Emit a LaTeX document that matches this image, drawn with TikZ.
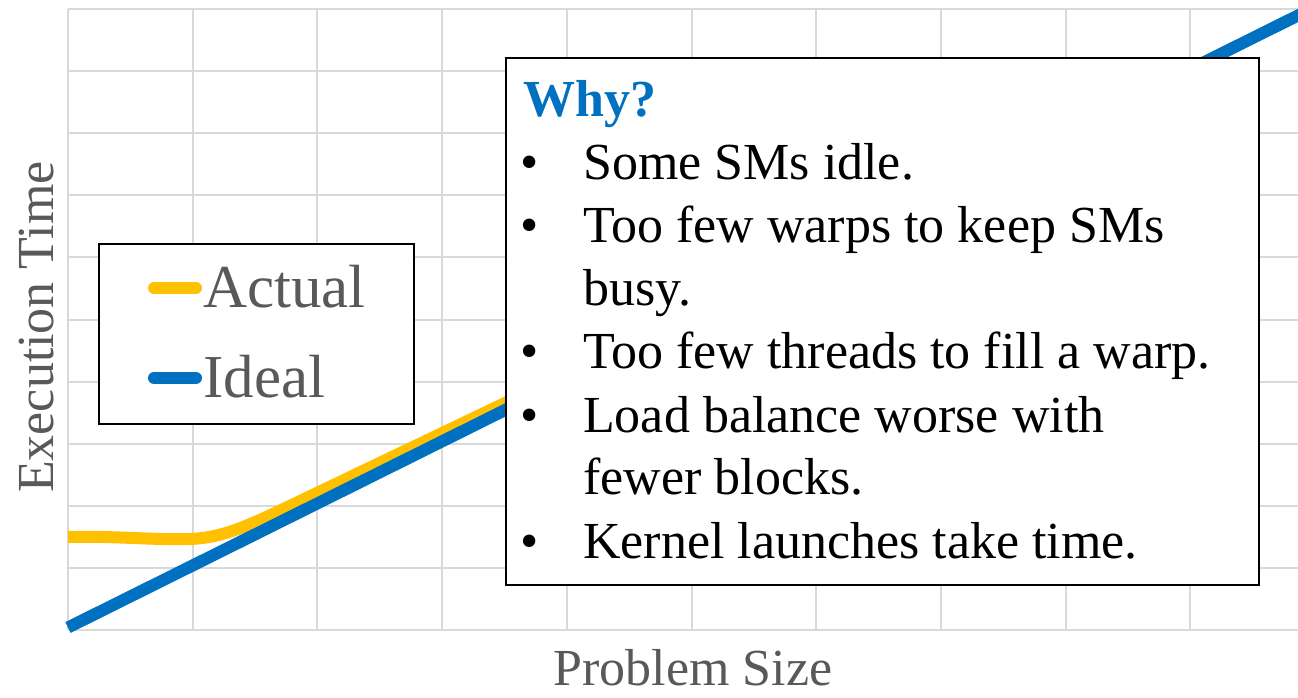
\documentclass[tikz,border=0pt]{standalone}
\usepackage{fontspec}
\setmainfont{Liberation Serif}
\definecolor{gridgray}{HTML}{D9D9D9}
\definecolor{labelgray}{HTML}{595959}
\definecolor{actualyellow}{HTML}{FFC000}
\definecolor{idealblue}{HTML}{0070C0}
\tikzset{
  gridline/.style={gridgray, line width=2pt},
  series/.style={line width=12pt},
  legendline/.style={line width=12pt, line cap=round},
  frame/.style={draw=black, fill=white, line width=2pt},
  axislabel/.style={labelgray, inner sep=0pt, font=\fontsize{52}{63}\selectfont},
  legendtext/.style={labelgray, inner sep=0pt, anchor=base west, font=\fontsize{61}{70}\selectfont},
  itemtext/.style={black, inner sep=0pt, anchor=base west, font=\fontsize{52}{63}\selectfont},
  bulletmark/.style={black, inner sep=0pt, anchor=base, font=\fontsize{52}{63}\selectfont},
}
\begin{document}
\begin{tikzpicture}[x=1pt, y=-1pt]
\useasboundingbox (0,0) rectangle (1298,698);
\begin{scope}
\clip (0,0) rectangle (1298,698);
% grid
\foreach \k in {0,...,10}
  \draw[gridline] (68,{9+62.1*\k}) -- (1298,{9+62.1*\k});
\foreach \k in {0,...,9}
  \draw[gridline] ({68+124.7*\k},9) -- ({68+124.7*\k},630);
% series
\draw[series, actualyellow] (68,537) .. controls (120,536) and (150,540) .. (190,539)
  .. controls (220,538) and (245,527) .. (275,513) -- (505,403) -- (900,214);
\draw[series, idealblue] (68,627.5) -- (1310,9.5);
\end{scope}
% axis titles
\node[axislabel, anchor=base] (xlabel) at (693,685) {Problem Size};
\node[axislabel, anchor=base, rotate=90] (ylabel) at (53,327) {Execution Time};
% legend
\node[frame, minimum width=315pt, minimum height=180pt, anchor=north west, inner sep=0pt] (legend) at (98,243) {};
\coordinate (ya) at (154,288);
\coordinate (yb) at (196,288);
\coordinate (ba) at (154,378);
\coordinate (bb) at (196,378);
\draw[legendline, actualyellow] (ya) -- (yb);
\draw[legendline, idealblue] (ba) -- (bb);
\node[legendtext] (actual) at (203,307) {Actual};
\node[legendtext] (ideal) at (203,397) {Ideal};
% explanation box
\node[frame, minimum width=753pt, minimum height=527pt, anchor=north west, inner sep=0pt] (why) at (505,57) {};
\node[itemtext, idealblue, font=\fontsize{52}{63}\selectfont\bfseries] (title) at (523,117) {Why?};
\node[bulletmark] (b1) at (530,179) {•};
\node[itemtext] (t1) at (583,179) {Some SMs idle.};
\node[bulletmark] (b2) at (530,242) {•};
\node[itemtext] (t2) at (583,242) {Too few warps to keep SMs};
\node[itemtext] (t2b) at (583,305) {busy.};
\node[bulletmark] (b3) at (530,368) {•};
\node[itemtext] (t3) at (583,368) {Too few threads to fill a warp.};
\node[bulletmark] (b4) at (530,432) {•};
\node[itemtext] (t4) at (583,432) {Load balance worse with};
\node[itemtext] (t4b) at (583,494) {fewer blocks.};
\node[bulletmark] (b5) at (530,558) {•};
\node[itemtext] (t5) at (583,558) {Kernel launches take time.};
\end{tikzpicture}
\end{document}
